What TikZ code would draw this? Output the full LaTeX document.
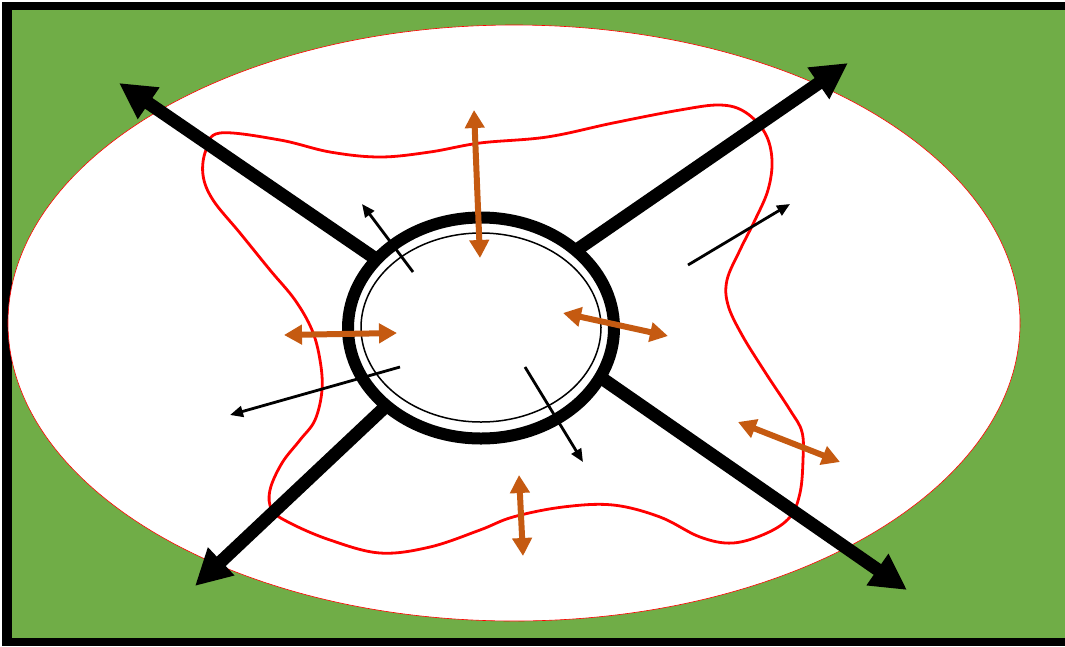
\documentclass[tikz,border=0pt]{standalone}
\usetikzlibrary{arrows.meta}
\definecolor{bggreen}{RGB}{112,173,71}
\definecolor{orangeA}{RGB}{197,90,17}
\tikzset{
  bigarrow/.style={line width=13pt,-{Triangle[length=36pt,width=36pt]}},
  thinarrow/.style={line width=2.8pt,-{Triangle[length=13pt,width=11pt]}},
  twoway/.style={orangeA,line width=6pt,{Triangle[length=18pt,width=19pt]}-{Triangle[length=18pt,width=19pt]}},
  region/.style={red,line width=2.8pt},
}
\begin{document}
\begin{tikzpicture}[x=1pt,y=-1pt]
\useasboundingbox (0,0) rectangle (1065,646);
\clip (0,0) rectangle (1065,646);
\fill[white] (0,0) rectangle (1065,646);
\fill[bggreen] (2,2) rectangle (1065,646);
\fill[black] (2,2) rectangle (1065,10);
\fill[black] (2,2) rectangle (12,646);
\fill[black] (2,638) rectangle (1065,646);
% outer white ellipse
\filldraw[fill=white,draw=red,line width=0.6pt] (514,323) ellipse [x radius=506, y radius=298];
% red wavy region
\draw[region] plot[smooth cycle,tension=0.6] coordinates {
(220,133) (280,140) (330,152) (380,157) (430,152) (480,143) (547,137) (613,123)
(680,110) (720,105) (745,112) (765,133) (772,160) (768,190) (755,220) (740,250)
(727,280) (728,305) (742,335) (765,372) (790,410) (802,432) (803,460) (800,493)
(790,517) (767,533) (733,543) (700,537) (660,517) (613,505) (563,507) (513,517)
(480,530) (430,547) (380,553) (330,540) (290,523) (272,510) (270,490) (282,463)
(300,440) (315,420) (322,390) (320,360) (312,330) (295,300) (270,270) (240,233)
(213,200) (203,175) (206,150)};
% coordinates
\coordinate (nwS) at (376,259); \coordinate (nwT) at (119,83);
\coordinate (neS) at (578,249); \coordinate (neT) at (848,63);
\coordinate (swS) at (384,408); \coordinate (swT) at (195,586);
\coordinate (seS) at (600,377); \coordinate (seT) at (907,590);
% thick arrows
\draw[bigarrow] (nwS) -- (nwT);
\draw[bigarrow] (neS) -- (neT);
\draw[bigarrow] (swS) -- (swT);
\draw[bigarrow] (seS) -- (seT);
% ring
\draw[line width=12pt] (481,328) ellipse [x radius=133, y radius=110.5];
\draw[line width=1.5pt] (481,327.5) ellipse [x radius=120, y radius=94.5];
% thin arrows
\coordinate (t1S) at (413,272); \coordinate (t1T) at (362,204);
\coordinate (t2S) at (400,367); \coordinate (t2T) at (230,415);
\coordinate (t3S) at (525,367); \coordinate (t3T) at (583,462);
\coordinate (t4S) at (688,265); \coordinate (t4T) at (790,204);
\draw[thinarrow] (t1S) -- (t1T);
\draw[thinarrow] (t2S) -- (t2T);
\draw[thinarrow] (t3S) -- (t3T);
\draw[thinarrow] (t4S) -- (t4T);
% orange double arrows
\coordinate (o1A) at (474,110); \coordinate (o1B) at (480,258);
\coordinate (o2A) at (284,335); \coordinate (o2B) at (397,333);
\coordinate (o3A) at (563,313); \coordinate (o3B) at (668,336);
\coordinate (o4A) at (738,422); \coordinate (o4B) at (840,462);
\coordinate (o5A) at (519,475); \coordinate (o5B) at (523,556);
\draw[twoway] (o1A) -- (o1B);
\draw[twoway] (o2A) -- (o2B);
\draw[twoway] (o3A) -- (o3B);
\draw[twoway] (o4A) -- (o4B);
\draw[twoway] (o5A) -- (o5B);
\end{tikzpicture}
\end{document}
